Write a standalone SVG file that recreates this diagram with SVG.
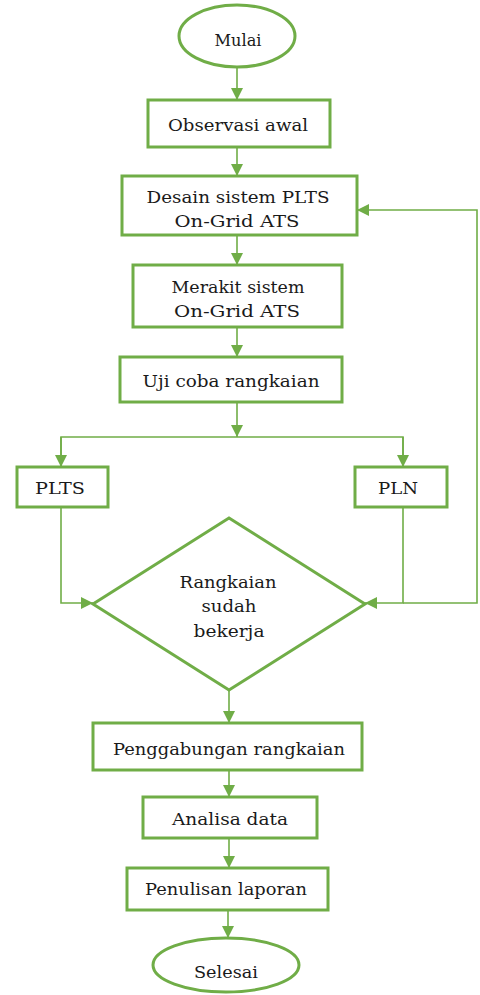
<svg xmlns="http://www.w3.org/2000/svg" width="480" height="995" viewBox="0 0 480 995">
<style>
.box{fill:#fff;stroke:#70AD47;stroke-width:3}
.c{fill:none;stroke:#70AD47;stroke-width:1.6}
.a{marker-end:url(#ah)}
.t{font-family:'DejaVu Serif','Liberation Serif',serif;font-size:17px;fill:#1a1a1a;text-anchor:middle}
</style>
<defs>
<marker id="ah" viewBox="0 0 12 12" refX="12" refY="6" markerWidth="12" markerHeight="12" markerUnits="userSpaceOnUse" orient="auto">
<path d="M0,0 L12,6 L0,12 z" fill="#70AD47"/>
</marker>
</defs>
<rect width="480" height="995" fill="#fff"/>
<g id="connectors">
<line class="c a" x1="237" y1="67" x2="237" y2="100"/>
<line class="c a" x1="237" y1="147" x2="237" y2="176"/>
<line class="c a" x1="237" y1="235" x2="237" y2="265"/>
<line class="c a" x1="237" y1="327" x2="237" y2="357"/>
<line class="c a" x1="237" y1="402" x2="237" y2="437"/>
<polyline class="c" points="61,467 61,437 403,437 403,467"/>
<line class="c a" x1="61" y1="437" x2="61" y2="467"/>
<line class="c a" x1="403" y1="437" x2="403" y2="467"/>
<polyline class="c a" points="61,507 61,603 93,603"/>
<polyline class="c a" points="403,507 403,603 365,603"/>
<polyline class="c a" points="403,603 477,603 477,210 357,210"/>
<line class="c a" x1="229" y1="690" x2="229" y2="723"/>
<line class="c a" x1="229" y1="770" x2="229" y2="797"/>
<line class="c a" x1="229" y1="838" x2="229" y2="868"/>
<line class="c a" x1="228" y1="910" x2="228" y2="938"/>
</g>
<g id="mulai">
<ellipse class="box" cx="237" cy="36" rx="58" ry="31"/>
<text class="t" x="238" y="46" textLength="47" lengthAdjust="spacingAndGlyphs">Mulai</text>
</g>
<g id="observasi">
<rect class="box" x="148" y="100" width="182" height="47"/>
<text class="t" x="238" y="131" textLength="140" lengthAdjust="spacingAndGlyphs">Observasi awal</text>
</g>
<g id="desain">
<rect class="box" x="122" y="176" width="235" height="59"/>
<text class="t" x="238" y="203" textLength="183" lengthAdjust="spacingAndGlyphs">Desain sistem PLTS</text>
<text class="t" x="237" y="227" textLength="125" lengthAdjust="spacingAndGlyphs">On-Grid ATS</text>
</g>
<g id="merakit">
<rect class="box" x="133" y="265" width="209" height="62"/>
<text class="t" x="238" y="293" textLength="133" lengthAdjust="spacingAndGlyphs">Merakit sistem</text>
<text class="t" x="237" y="317" textLength="126" lengthAdjust="spacingAndGlyphs">On-Grid ATS</text>
</g>
<g id="ujicoba">
<rect class="box" x="120" y="357" width="222" height="45"/>
<text class="t" x="231" y="387" textLength="177" lengthAdjust="spacingAndGlyphs">Uji coba rangkaian</text>
</g>
<g id="plts">
<rect class="box" x="17" y="467" width="91" height="40"/>
<text class="t" x="60" y="494" textLength="50" lengthAdjust="spacingAndGlyphs">PLTS</text>
</g>
<g id="pln">
<rect class="box" x="355" y="467" width="92" height="40"/>
<text class="t" x="398" y="494" textLength="40" lengthAdjust="spacingAndGlyphs">PLN</text>
</g>
<g id="decision">
<polygon class="box" points="229,518 365,604 229,690 93,604"/>
<text class="t" x="228" y="588" textLength="97" lengthAdjust="spacingAndGlyphs">Rangkaian</text>
<text class="t" x="229" y="612" textLength="55" lengthAdjust="spacingAndGlyphs">sudah</text>
<text class="t" x="229" y="637" textLength="71" lengthAdjust="spacingAndGlyphs">bekerja</text>
</g>
<g id="penggabungan">
<rect class="box" x="93" y="723" width="269" height="47"/>
<text class="t" x="229" y="755" textLength="232" lengthAdjust="spacingAndGlyphs">Penggabungan rangkaian</text>
</g>
<g id="analisa">
<rect class="box" x="143" y="797" width="174" height="41"/>
<text class="t" x="230" y="825" textLength="116" lengthAdjust="spacingAndGlyphs">Analisa data</text>
</g>
<g id="penulisan">
<rect class="box" x="127" y="868" width="201" height="42"/>
<text class="t" x="226" y="895" textLength="162" lengthAdjust="spacingAndGlyphs">Penulisan laporan</text>
</g>
<g id="selesai">
<ellipse class="box" cx="226" cy="965" rx="73" ry="27"/>
<text class="t" x="226" y="978" textLength="64" lengthAdjust="spacingAndGlyphs">Selesai</text>
</g>
</svg>
